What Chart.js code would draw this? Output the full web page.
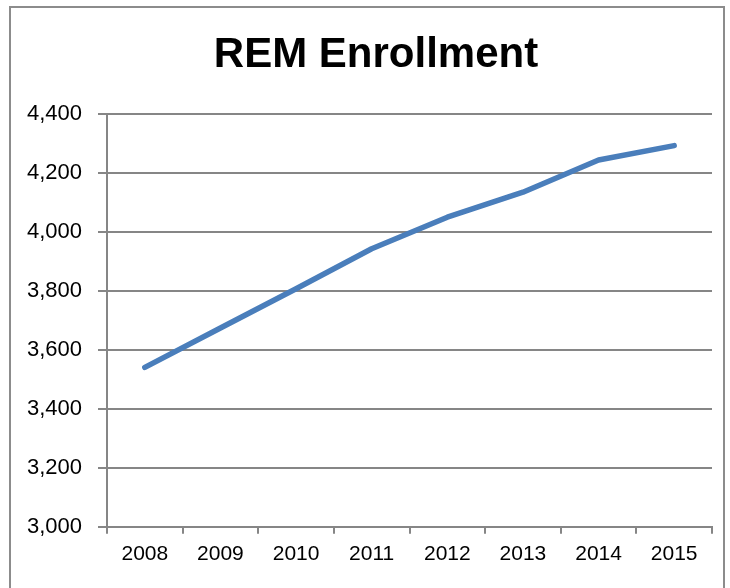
<!DOCTYPE html>
<html>
<head>
<meta charset="utf-8">
<script src="https://cdn.jsdelivr.net/npm/chart.js@4"></script>
<style>
  html, body { margin: 0; padding: 0; background: #fff; }
  #wrap { position: relative; width: 730px; height: 588px; }
  #frame {
    position: absolute; left: 9px; top: 6px; width: 712px; height: 600px;
    border: 2px solid #8c8c8c; border-bottom: none; pointer-events: none;
  }
</style>
</head>
<body>
<div id="wrap">
  <canvas id="grafico" width="730" height="588"></canvas>
  <div id="frame"></div>
</div>
<script>
// Datos
const years = ['2008', '2009', '2010', '2011', '2012', '2013', '2014', '2015'];
const enrollment = [3541, 3675, 3808, 3944, 4051, 4136, 4245, 4294];
const yMin = 3000;
const yMax = 4400;
const yStep = 200;

const fuente = "'Liberation Sans', Arial, sans-serif";

// el título va centrado sobre la zona de datos, no sobre todo el lienzo
const moverTitulo = {
  id: 'moverTitulo',
  afterLayout(chart) {
    if (chart.titleBlock) chart.titleBlock.left = 40;
  }
};

const ctx = document.getElementById('grafico').getContext('2d');
new Chart(ctx, {
  type: 'line',
  data: {
    labels: years,
    datasets: [{
      label: 'REM Enrollment',
      data: enrollment,
      borderColor: '#4a7ebb',
      borderWidth: 5.5,
      borderCapStyle: 'round',
      borderJoinStyle: 'round',
      pointRadius: 0,
      tension: 0,
      fill: false
    }]
  },
  options: {
    responsive: false,
    animation: false,
    layout: { padding: { left: 10, right: 18, top: 8, bottom: 13 } },
    plugins: {
      legend: { display: false },
      tooltip: { enabled: false },
      title: {
        display: true,
        text: 'REM Enrollment',
        color: '#000',
        font: { family: fuente, size: 42, weight: 'bold' },
        padding: { top: 22, bottom: 34 }
      }
    },
    scales: {
      y: {
        min: yMin,
        max: yMax,
        afterFit: scale => { scale.width = 97; },
        ticks: {
          stepSize: yStep,
          color: '#000',
          padding: 16,
          font: { family: fuente, size: 22 },
          callback: v => v.toLocaleString('en-US')
        },
        grid: { color: '#868686', lineWidth: 2, tickLength: 9 },
        border: { color: '#868686', width: 2 }
      },
      x: {
        offset: true,
        ticks: {
          color: '#000',
          padding: 8,
          font: { family: fuente, size: 21 }
        },
        grid: {
          offset: true,
          drawOnChartArea: false,
          color: '#868686',
          lineWidth: 2,
          tickLength: 7
        },
        border: { color: '#868686', width: 2 }
      }
    }
  },
  plugins: [moverTitulo]
});
</script>
</body>
</html>
